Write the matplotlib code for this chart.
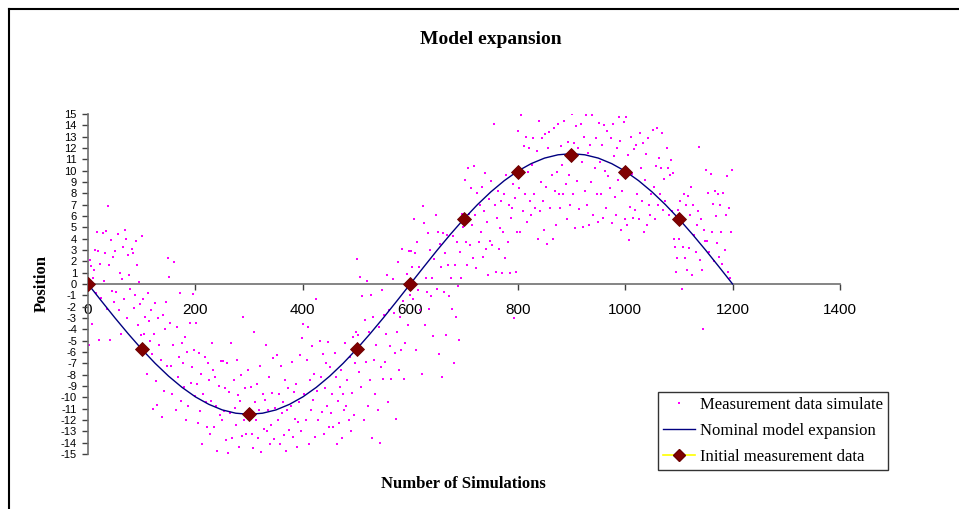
import numpy as np
import matplotlib
matplotlib.use("Agg")
import matplotlib.pyplot as plt
from matplotlib.lines import Line2D

# ---------------- data ----------------
# Nominal model expansion (read every 25 simulations)
nominal_x = list(range(0, 1201, 25))
nominal_y = [0.0, -1.50, -2.98, -4.40, -5.75, -7.00, -8.13, -9.12, -9.96, -10.62, -11.11, -11.40,
             -11.5, -11.40, -11.11, -10.62, -9.96, -9.12, -8.13, -7.00, -5.75, -4.40, -2.98, -1.50,
             0.0, 1.50, 2.98, 4.40, 5.75, 7.00, 8.13, 9.12, 9.96, 10.62, 11.11, 11.40,
             11.5, 11.40, 11.11, 10.62, 9.96, 9.12, 8.13, 7.00, 5.75, 4.40, 2.98, 1.50, 0.0]

# Initial measurement data (diamonds)
init_x = [0, 100, 300, 500, 600, 700, 800, 900, 1000, 1100]
init_y = [0.0, -5.75, -11.5, -5.75, 0.0, 5.75, 9.9, 11.4, 9.9, 5.75]

# Measurement data simulate: simulation number (every 2nd run) and measured value
meas_x = np.arange(1, 1200, 2)
meas_y = np.array(
    [-5.4, 2.1, 1.6, -3.5, 0.5, 1.2, 3.0, -0.8, 4.6, 2.9, -4.9, 1.8, -1.2, 4.5, 0.3, 2.7, 4.7, -2.2, 6.9, 1.7, -4.9, 3.9, -0.6, 2.4, -1.6]
    + [2.9, -0.7, 4.4, -2.3, 1.0, -4.4, 0.4, 3.3, -1.3, 4.8, 4.0, -3.0, 2.6, 0.8, -0.4, 3.1, 2.7, -2.1, -1.0, 3.8, 1.7, -3.6, 0.2, -1.8, -4.5]
    + [4.2, -1.3, -4.4, -2.9, -7.9, -0.8, -3.3, -5.0, -2.3, -6.2, -11.0, -4.4, -1.7, -8.6, -10.7, -3.0, -5.4, -6.7, -11.7, -2.7, -9.4, -4.0, -1.6, -7.2, 2.3]
    + [0.6, -3.4, -7.2, -9.7, -5.4, 1.9, -11.1, -3.8, -8.2, -6.4, -0.8, -10.3, -5.2, -7.0, -9.1, -4.7, -12.0, -6.0, -10.8, -3.4, -8.7, -7.3, -0.9, -5.8, -9.9]
    + [-3.4, -8.8, -12.3, -6.1, -11.2, -7.9, -14.1, -9.7, -6.4, -10.4, -12.6, -7.0, -8.5, -13.2, -10.3, -5.2, -7.6, -12.6, -8.2, -10.8, -14.7, -9.0, -11.6, -6.8, -12.0]
    + [-6.8, -11.2, -9.2, -13.8, -7.0, -14.9, -9.5, -11.4, -5.2, -13.6, -8.5, -10.9, -12.4, -6.7, -9.8, -14.4, -10.3, -8.0, -13.4, -2.9, -12.0, -9.2, -13.2, -7.6, -11.0]
    + [-11.4, -9.1, -13.2, -14.5, -4.2, -10.4, -12.0, -8.8, -13.6, -11.1, -7.2, -14.8, -9.7, -12.8, -10.2, -5.4, -13.0, -11.1, -8.2, -14.1, -12.4, -9.6, -6.5, -13.7, -10.9]
    + [-6.3, -12.0, -9.7, -14.1, -7.2, -11.4, -10.4, -13.3, -8.5, -14.7, -11.1, -9.2, -12.9, -10.8, -6.9, -13.5, -9.5, -11.9, -8.8, -14.4, -12.2, -10.4, -6.3, -13.0, -4.8]
    + [-3.5, -9.7, -12.0, -6.7, -3.8, -14.1, -8.5, -11.1, -5.5, -10.2, -7.9, -13.5, -1.3, -9.4, -12.0, -5.0, -8.2, -11.3, -6.2, -13.2, -9.2, -7.0, -10.8, -5.1, -12.6]
    + [-7.3, -11.4, -9.7, -12.6, -6.1, -8.2, -14.1, -10.3, -12.3, -9.1, -7.6, -13.6, -9.7, -11.1, -5.2, -10.8, -8.5, -12.0, -6.4, -13.0, -9.6, -4.7, -11.6, -7.0, -4.2]
    + [2.2, -4.5, -7.8, 0.6, -9.1, -1.1, -12.0, -3.2, -6.9, 0.3, -10.8, -4.2, -8.5, -1.0, -13.6, -2.9, -6.7, -9.7, -5.4, -11.1, -3.8, -14.0, -7.3, -0.5, -8.4]
    + [-2.7, -6.9, -4.4, 0.8, -10.4, -2.3, -5.5, -8.4, 0.4, -2.6, -6.1, -11.9, -4.2, 1.9, -7.6, -2.9, -5.8, 3.1, -1.5, -8.4, -5.2, 0.9, -3.6, 2.9, -1.0]
    + [2.9, 1.5, -1.3, 5.7, 2.7, -5.8, 3.7, -0.5, 1.5, -2.3, -7.9, 6.9, 5.4, -3.6, 0.5, -0.7, 4.5, -2.2, 3.0, -1.1, 0.5, -4.6, 2.2, 6.1, -0.4]
    + [4.6, -6.2, 3.5, 1.5, -8.2, 4.5, -0.7, 2.7, -4.5, 4.3, 1.7, -1.1, 0.5, -2.2, 4.2, -7.0, 1.7, -2.9, 3.7, -0.2, -4.9, 2.8, 0.5, 6.2, 5.0]
    + [9.2, 3.7, 1.7, 10.2, 6.2, 3.4, 8.5, 5.2, 2.3, 10.4, 6.1, 1.4, 8.0, 3.7, 7.0, 4.6, 8.6, 2.4, 6.4, 9.8, 3.1, 5.5, 0.8, 7.5, 3.8]
    + [9.1, 3.4, 14.1, 7.0, 1.1, 5.8, 8.2, 3.1, 4.9, 7.3, 1.0, 4.6, 7.9, 2.3, 9.6, 3.7, 7.0, 1.0, 5.8, 6.7, 8.8, -3.0, 7.6, 1.1, 4.6]
    + [13.5, 8.5, 4.6, 14.9, 6.4, 12.2, 7.9, 13.0, 5.5, 9.9, 12.0, 7.3, 6.1, 10.5, 12.9, 7.9, 6.7, 11.7, 4.0, 14.4, 6.4, 9.0, 12.9, 7.3, 4.8]
    + [13.2, 8.6, 3.5, 12.0, 13.4, 6.7, 9.6, 4.0, 13.8, 8.2, 5.2, 9.9, 14.1, 7.9, 6.7, 12.2, 10.5, 7.9, 14.4, 8.8, 5.7, 12.5, 9.6, 7.0, 11.2]
    + [15.0, 7.9, 12.4, 4.9, 13.9, 9.1, 12.0, 6.6, 14.1, 10.8, 5.0, 13.0, 8.2, 14.9, 7.0, 11.6, 5.2, 12.3, 9.0, 14.9, 6.1, 10.2, 12.9, 7.9, 5.5]
    + [14.2, 10.8, 7.9, 12.3, 5.8, 14.0, 10.0, 6.7, 13.5, 9.5, 8.5, 12.9, 5.4, 14.1, 11.3, 7.7, 6.1, 12.0, 9.2, 14.7, 12.6, 4.8, 8.2, 14.3, 5.7]
    + [14.7, 5.2, 11.4, 3.9, 6.8, 13.0, 9.7, 5.8, 11.9, 6.5, 12.3, 7.9, 5.7, 13.3, 10.2, 7.3, 12.4, 4.6, 9.2, 11.5, 5.2, 12.9, 7.0, 6.1, 7.9]
    + [13.6, 8.6, 5.7, 10.4, 13.8, 7.0, 11.1, 7.9, 10.2, 13.3, 6.5, 9.3, 7.3, 12.0, 10.2, 6.1, 9.6, 10.9, 6.4, 9.8, 4.0, 3.3, 1.1, 2.3, 6.5]
    + [4.0, 7.3, -0.4, 3.3, 7.9, 2.3, 7.0, 1.2, 7.8, 3.2, 6.1, 8.6, 0.8, 7.0, 4.3, 2.8, 5.2, 6.4, 12.1, 2.1, 5.7, 1.2, -4.0, 4.8, 3.8]
    + [10.1, 3.8, 8.0, 2.8, 9.7, 4.6, 7.1, 2.0, 8.2, 6.0, 3.6, 7.9, 2.4, 7.0, 4.6, 1.8, 8.0, 3.0, 6.1, 9.5, 1.1, 6.7, 0.5, 4.6, 10.1]
)

x_ticks = [0, 200, 400, 600, 800, 1000, 1200, 1400]
y_ticks = list(range(-15, 16))

labels = ["Measurement data simulate", "Nominal model expansion", "Initial measurement data"]

# ---------------- figure ----------------
W, H = 959, 509
fig = plt.figure(figsize=(W / 100, H / 100), dpi=100)
fig.patch.set_facecolor("white")

ax = fig.add_axes([88 / W, (H - 454) / H, 752 / W, 340 / H])
ax.set_xlim(0, 1400)
ax.set_ylim(-15, 15)

ax.plot(meas_x, meas_y, ls="none", marker="s", ms=1.9, mew=0, color="#ff00ff", zorder=2)
ax.plot(nominal_x, nominal_y, color="#000080", lw=1.0, zorder=3)
ax.plot(init_x, init_y, ls="none", marker="D", ms=7, mfc="#800000", mec="#6a0000", mew=0.6, zorder=4)

for s in ["top", "right"]:
    ax.spines[s].set_visible(False)
ax.spines["bottom"].set_position(("data", 0))
ax.spines["left"].set_position(("data", 0))
for s in ["bottom", "left"]:
    ax.spines[s].set_color("#707070")
    ax.spines[s].set_linewidth(1.2)

ax.set_xticks(x_ticks)
ax.set_yticks(y_ticks)
ax.set_xticklabels([str(v) for v in x_ticks])
ax.set_yticklabels([str(v) for v in y_ticks])
ax.tick_params(axis="x", direction="out", length=4, width=1, color="#404040", pad=10,
               labelsize=11)
ax.tick_params(axis="y", direction="out", length=4, width=1, color="#404040", pad=4,
               labelsize=8)
for t in ax.get_xticklabels() + ax.get_yticklabels():
    t.set_fontfamily("Liberation Sans")
ax.patch.set_alpha(0)

serif = "Liberation Serif"
fig.text(491 / W, 1 - 40 / H, "Model expansion", ha="center", va="center",
         fontsize=14, fontweight="bold", family=serif)
fig.text(42 / W, 1 - 284 / H, "Position", ha="center", va="center", rotation=90,
         fontsize=12, fontweight="bold", family=serif)
fig.text(463 / W, 1 - 484 / H, "Number of Simulations", ha="center", va="center",
         fontsize=12, fontweight="bold", family=serif)

handles = [
    Line2D([], [], ls="none", marker="s", ms=1.7, mew=0, color="#ff00ff"),
    Line2D([], [], color="#000080", lw=1.0),
    Line2D([], [], color="#ffff00", lw=1.2, marker="D", ms=6, mfc="#800000", mec="#6a0000"),
]
leg = fig.legend(handles, labels, loc="upper left",
                 bbox_to_anchor=(658 / W, 1 - 392 / H), bbox_transform=fig.transFigure,
                 borderaxespad=0, frameon=True, fancybox=False, edgecolor="black",
                 prop={"family": serif, "size": 12}, handlelength=1.9, handletextpad=0.3,
                 labelspacing=0.6, borderpad=0.3)
leg.get_frame().set_linewidth(1.0)

# outer chart border (left and top visible)
fig.add_artist(Line2D([9 / W, 9 / W], [0, 1 - 9 / H], transform=fig.transFigure,
                      color="black", lw=1.5))
fig.add_artist(Line2D([9 / W, 1], [1 - 9 / H, 1 - 9 / H], transform=fig.transFigure,
                      color="black", lw=1.5))

fig.savefig("out.png", dpi=100)
